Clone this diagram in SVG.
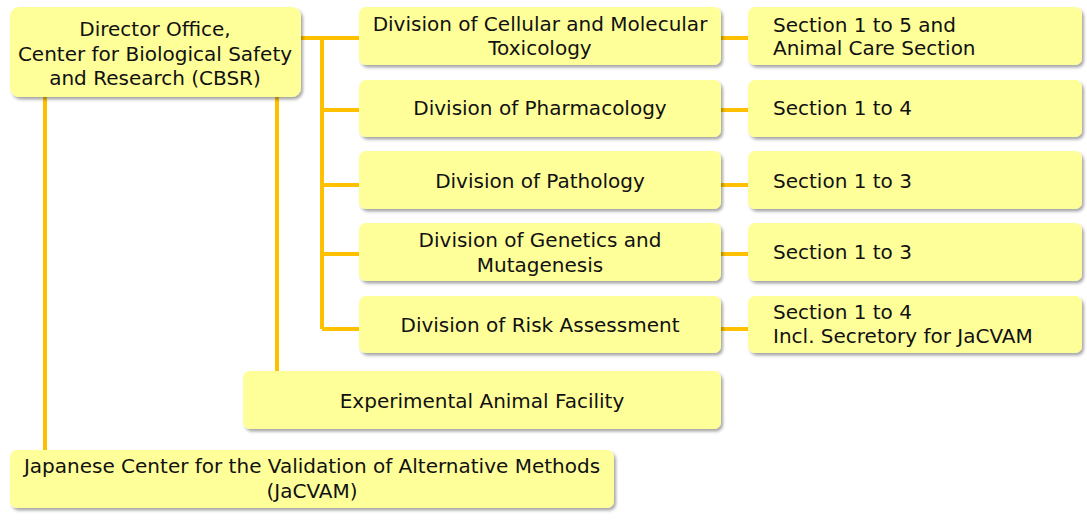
<svg xmlns="http://www.w3.org/2000/svg" width="1087" height="525" viewBox="0 0 1087 525">
<style>
.box{fill:#FFFF99;filter:url(#sh)}
.t{font-family:"DejaVu Sans",Verdana,sans-serif;font-size:20px;fill:#111}
.c{text-anchor:middle}
.ln{stroke:#FFC000;stroke-width:4;fill:none}
</style>
<defs>
<filter id="sh" x="-10%" y="-20%" width="120%" height="150%">
<feDropShadow dx="2" dy="2.5" stdDeviation="1.5" flood-color="#000" flood-opacity="0.35"/>
</filter>
</defs>
<rect width="1087" height="525" fill="#fff"/>
<g id="connectors">
<path class="ln" d="M301 38H359M322 38V329M322 110H359M322 185H359M322 254H359M322 329H359"/>
<path class="ln" d="M721 38H748M721 110H748M721 185H748M721 254H748M721 329H748"/>
<path class="ln" d="M277 97V371M45 97V450"/>
</g>
<g id="director">
<rect class="box" x="10" y="7" width="291" height="90" rx="9"/>
<text class="t c" x="155" y="36">Director Office,</text>
<text class="t c" x="155" y="61">Center for Biological Safety</text>
<text class="t c" x="155" y="85">and Research (CBSR)</text>
</g>
<g id="div-cellular">
<rect class="box" x="359" y="7" width="362" height="58" rx="7"/>
<text class="t c" x="540" y="31">Division of Cellular and Molecular</text>
<text class="t c" x="540" y="55">Toxicology</text>
</g>
<g id="div-pharmacology">
<rect class="box" x="359" y="80" width="362" height="57" rx="7"/>
<text class="t c" x="540" y="115">Division of Pharmacology</text>
</g>
<g id="div-pathology">
<rect class="box" x="359" y="151" width="362" height="58" rx="7"/>
<text class="t c" x="540" y="188">Division of Pathology</text>
</g>
<g id="div-genetics">
<rect class="box" x="359" y="223" width="362" height="58" rx="7"/>
<text class="t c" x="540" y="247">Division of Genetics and</text>
<text class="t c" x="540" y="272">Mutagenesis</text>
</g>
<g id="div-risk">
<rect class="box" x="359" y="296" width="362" height="57" rx="7"/>
<text class="t c" x="540" y="332">Division of Risk Assessment</text>
</g>
<g id="sec-cellular">
<rect class="box" x="748" y="7" width="334" height="58" rx="7"/>
<text class="t" x="773" y="32">Section 1 to 5 and</text>
<text class="t" x="773" y="55">Animal Care Section</text>
</g>
<g id="sec-pharmacology">
<rect class="box" x="748" y="80" width="334" height="57" rx="7"/>
<text class="t" x="773" y="115">Section 1 to 4</text>
</g>
<g id="sec-pathology">
<rect class="box" x="748" y="151" width="334" height="58" rx="7"/>
<text class="t" x="773" y="188">Section 1 to 3</text>
</g>
<g id="sec-genetics">
<rect class="box" x="748" y="223" width="334" height="58" rx="7"/>
<text class="t" x="773" y="259">Section 1 to 3</text>
</g>
<g id="sec-risk">
<rect class="box" x="748" y="296" width="334" height="57" rx="7"/>
<text class="t" x="773" y="319">Section 1 to 4</text>
<text class="t" x="773" y="343">Incl. Secretory for JaCVAM</text>
</g>
<g id="experimental">
<rect class="box" x="243" y="371" width="478" height="58" rx="7"/>
<text class="t c" x="482" y="408">Experimental Animal Facility</text>
</g>
<g id="jacvam">
<rect class="box" x="10" y="450" width="604" height="58" rx="7"/>
<text class="t c" x="312" y="473">Japanese Center for the Validation of Alternative Methods</text>
<text class="t c" x="312" y="498">(JaCVAM)</text>
</g>
</svg>
